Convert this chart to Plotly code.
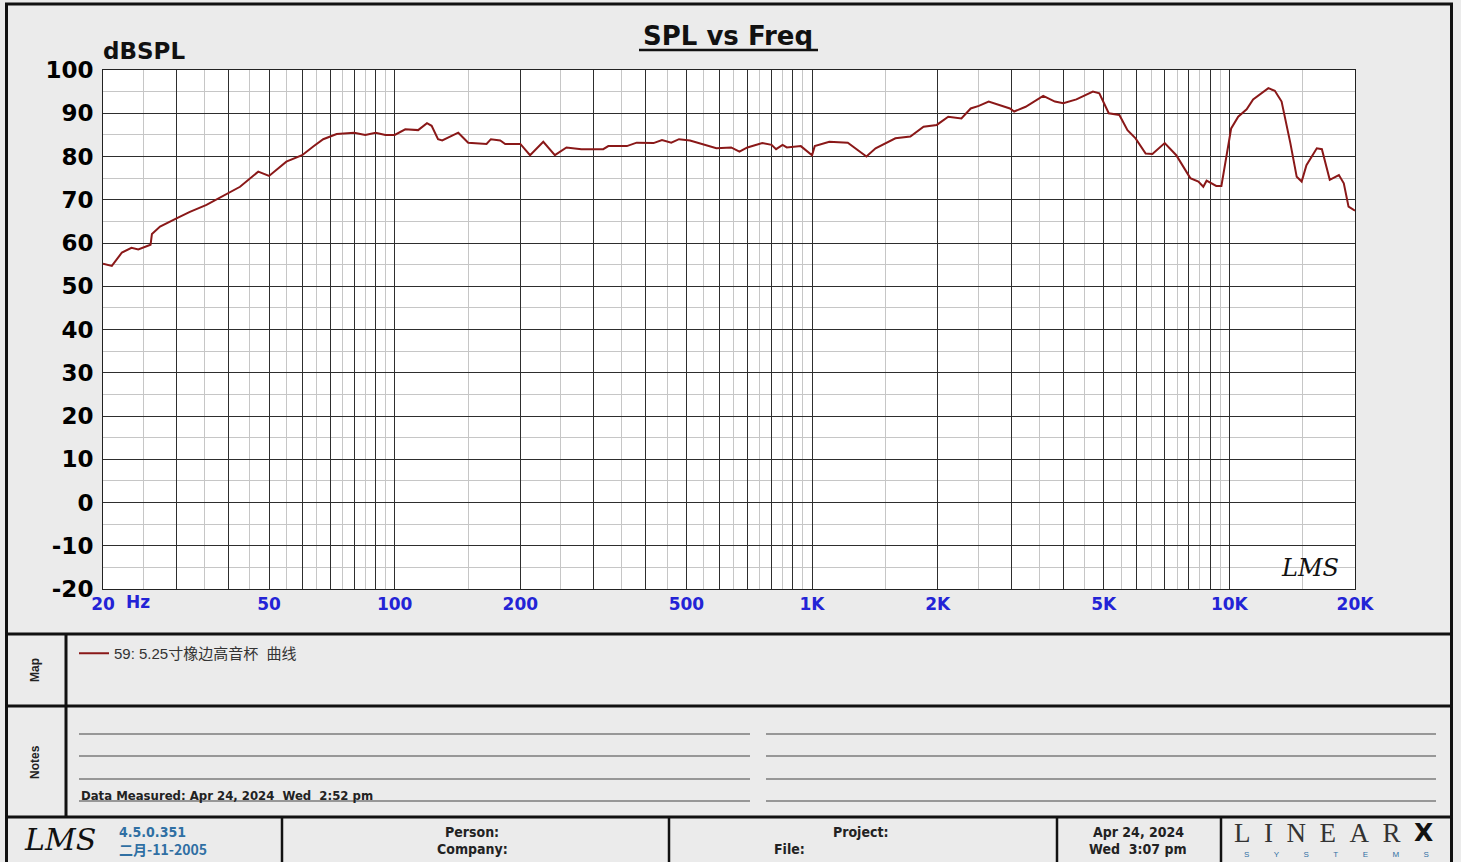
import math
import plotly.graph_objects as go

# ---------------- data ----------------
freq_hz = [20, 21, 22.2, 23.4, 24.3, 25.5, 26.0, 26.2, 27.4, 30, 32.3, 35.4, 40, 42.6, 47.1, 50, 55, 60,
           63.8, 67.4, 72.6, 80, 85, 90, 95, 100, 106, 113.8, 119.5, 122.6, 127, 130, 142, 150, 166, 170,
           179, 184, 200, 211, 227, 242, 258, 280, 316, 325, 360, 380, 417, 437, 460, 480, 510, 590,
           640, 670, 700, 760, 800, 820, 850, 870, 940, 970, 1000, 1015, 1100, 1218, 1285, 1350, 1420,
           1584, 1720, 1850, 1990, 2120, 2280, 2400, 2510, 2650, 2980, 3050, 3250, 3580, 3820, 4000,
           4300, 4710, 4880, 5140, 5450, 5700, 5960, 6300, 6540, 7000, 7460, 8060, 8430, 8660, 8820,
           9300, 9570, 9830, 10100, 10500, 11000, 11400, 12400, 12850, 13340, 14000, 14500, 14900,
           15300, 16200, 16660, 17400, 18300, 18800, 19300, 20000]
spl_db = [55.2, 54.7, 57.8, 58.9, 58.5, 59.3, 59.6, 62.1, 63.8, 65.7, 67.2, 68.8, 71.5, 73.0, 76.5, 75.5,
          78.8, 80.3, 82.3, 84.0, 85.2, 85.5, 85.0, 85.5, 85.0, 85.0, 86.3, 86.1, 87.7, 87.1, 84.0, 83.7,
          85.5, 83.2, 82.9, 84.0, 83.7, 82.9, 82.9, 80.3, 83.4, 80.3, 82.1, 81.7, 81.7, 82.4, 82.4, 83.2,
          83.1, 83.8, 83.2, 84.0, 83.7, 81.9, 82.1, 81.1, 82.1, 83.1, 82.7, 81.7, 82.7, 82.1, 82.4, 81.3,
          80.3, 82.4, 83.4, 83.2, 81.5, 80.0, 81.9, 84.2, 84.6, 86.9, 87.3, 89.2, 88.8, 91.1, 91.7, 92.7,
          91.1, 90.4, 91.5, 94.0, 92.7, 92.3, 93.2, 95.0, 94.6, 90.0, 89.6, 86.1, 84.2, 80.7, 80.6, 83.1,
          80.3, 75.0, 74.2, 73.0, 74.4, 73.2, 73.2, 80.0, 86.5, 89.2, 90.9, 93.2, 95.8, 95.2, 92.7, 83.1,
          75.3, 74.2, 78.0, 81.9, 81.7, 74.6, 75.7, 73.8, 68.4, 67.5]
series_name = "59: 5.25寸橡边高音杯  曲线"

x_major = [20, 30, 40, 50, 60, 70, 80, 90, 100, 200, 300, 400, 500, 600, 700, 800, 900,
           1000, 2000, 3000, 4000, 5000, 6000, 7000, 8000, 9000, 10000, 20000]
x_major_text = {20: "20", 50: "50", 100: "100", 200: "200", 500: "500", 1000: "1K",
                2000: "2K", 5000: "5K", 10000: "10K", 20000: "20K"}
x_minor = [25, 35, 45, 55, 65, 75, 85, 95, 150, 250, 350, 450, 550, 650, 750, 850, 950,
           1500, 2500, 3500, 4500, 5500, 6500, 7500, 8500, 9500, 15000]
y_major = [-20, -10, 0, 10, 20, 30, 40, 50, 60, 70, 80, 90, 100]
y_minor = [-15, -5, 5, 15, 25, 35, 45, 55, 65, 75, 85, 95]

# ---------------- geometry helpers ----------------
WIDTH, HEIGHT = 1461, 862
L, R, T, B = 103, 1355, 70, 589
PW, PH = R - L, B - T


def px(x):
    return (x - L) / PW


def py(y):
    return (B - y) / PH


fig = go.Figure()
fig.add_trace(go.Scatter(x=freq_hz, y=spl_db, mode="lines", name=series_name,
                         line=dict(color="#8a1818", width=2), showlegend=True))

bold_font = "DejaVu Sans"
narrow = "Liberation Sans Narrow, DejaVu Sans Condensed, Liberation Sans"

fig.update_xaxes(type="log", range=[math.log10(20), math.log10(20000)],
                 tickmode="array", tickvals=x_major,
                 ticktext=[x_major_text.get(v, "") for v in x_major],
                 tickfont=dict(family=bold_font, size=17, color="#2323d6", weight="bold"),
                 ticks="", showgrid=True, gridcolor="#2e2e2e", gridwidth=1,
                 minor=dict(tickmode="array", tickvals=x_minor, showgrid=True,
                            gridcolor="#c6c6c6", gridwidth=1, ticks=""),
                 showline=True, linecolor="#222222", linewidth=1, mirror=True,
                 zeroline=False, automargin=False, ticklabelstandoff=0)
fig.update_yaxes(range=[-20, 100], tickmode="array", tickvals=y_major,
                 ticktext=[str(v) for v in y_major],
                 tickfont=dict(family=bold_font, size=23, color="#000000", weight="bold"),
                 ticks="", showgrid=True, gridcolor="#2e2e2e", gridwidth=1,
                 minor=dict(tickmode="array", tickvals=y_minor, showgrid=True,
                            gridcolor="#c6c6c6", gridwidth=1, ticks=""),
                 showline=True, linecolor="#222222", linewidth=1, mirror=True,
                 zeroline=False, automargin=False, ticklabelstandoff=4)

shapes = []


def hline(x0, x1, y, color="#111111", w=3):
    shapes.append(dict(type="line", xref="paper", yref="paper", x0=px(x0), x1=px(x1),
                       y0=py(y), y1=py(y), line=dict(color=color, width=w)))


def vline(x, y0, y1, color="#111111", w=3):
    shapes.append(dict(type="line", xref="paper", yref="paper", x0=px(x), x1=px(x),
                       y0=py(y0), y1=py(y1), line=dict(color=color, width=w)))


# outer frame
hline(5, 1453, 4)
vline(6.5, 3, 862)
vline(1451.5, 3, 862)
# section dividers
hline(5, 1453, 634)
hline(5, 1453, 706)
hline(5, 1453, 817)
vline(66, 634, 817)
for xx in [282, 669, 1057, 1221]:
    vline(xx, 817, 862, w=2.5)
# notes lines
for yy in [734, 756, 779, 801]:
    hline(79, 750, yy, color="#444444", w=1.2)
    hline(766, 1436, yy, color="#444444", w=1.2)
# title underline
hline(639, 818, 50, color="#111111", w=2.5)

annotations = []


def text(x, y, s, size=13, color="#222222", family=narrow, weight="bold", xanchor="left",
         yanchor="middle", angle=0, style="normal"):
    annotations.append(dict(x=px(x), y=py(y), xref="paper", yref="paper", text=s,
                            showarrow=False, xanchor=xanchor, yanchor=yanchor, textangle=angle,
                            font=dict(size=size, color=color, family=family, weight=weight,
                                      style=style)))


NB = "\u00a0"
text(728, 36, "SPL vs Freq", size=26, color="#111111", family=bold_font, xanchor="center")
text(101, 51, "dBSPL", size=23, color="#111111", family=bold_font)
text(124, 602, "Hz", size=17, color="#2323d6", family=bold_font)
text(1310, 568, "LMS", size=24, color="#111111", family="DejaVu Serif", weight="normal",
     xanchor="center", style="italic")

text(35, 670, "Map", size=12, color="#222222", family="Liberation Sans", xanchor="center", angle=-90)
text(35, 762, "Notes", size=12, color="#222222", family="Liberation Sans", xanchor="center", angle=-90)
text(79, 795, "Data Measured: Apr 24, 2024  Wed  2:52 pm", size=13, color="#222222")

# footer
text(60, 839, "LMS", size=30, color="#111111", family="DejaVu Serif", weight="normal",
     xanchor="center", style="italic")
text(117, 832, "4.5.0.351", size=14, color="#2f6fa3", family=narrow)
text(117, 849, "二月-11-2005", size=14, color="#2f6fa3", family="Liberation Sans Narrow, Noto Sans CJK SC")
text(472, 832, "Person:", size=14, xanchor="center")
text(472, 849, "Company:", size=14, xanchor="center")
text(860, 832, "Project:", size=14, xanchor="center")
text(789, 849, "File:", size=14, xanchor="center")
text(1138, 832, "Apr 24, 2024", size=14, xanchor="center")
text(1138, 849, "Wed  3:07 pm", size=14, xanchor="center")
text(1232, 833, (NB * 2).join(list("LINEAR")), size=27, color="#333333", family="Liberation Serif",
     weight="normal", xanchor="left")
text(1423, 832, "X", size=25, color="#111111", family="DejaVu Sans", weight="bold", xanchor="center")
text(1336, 854, (NB * 11).join(list("SYSTEMS")), size=8, color="#2f6fa3",
     family="Liberation Sans", weight="normal", xanchor="center")

fig.update_layout(
    width=WIDTH, height=HEIGHT, autosize=False,
    margin=dict(l=L, r=WIDTH - R, t=T, b=HEIGHT - B, pad=0),
    paper_bgcolor="#ebebeb", plot_bgcolor="#ffffff",
    template="none",
    shapes=shapes, annotations=annotations,
    showlegend=True,
    legend=dict(x=px(74), y=py(637), xanchor="left", yanchor="top",
                bgcolor="rgba(0,0,0,0)", borderwidth=0, itemwidth=30,
                font=dict(size=15, color="#333333",
                          family="Liberation Sans, Noto Sans CJK SC")),
)

fig.write_html("out.html", config={"displayModeBar": False},
               post_script="document.body.style.margin='0px';document.body.style.padding='0px';")
